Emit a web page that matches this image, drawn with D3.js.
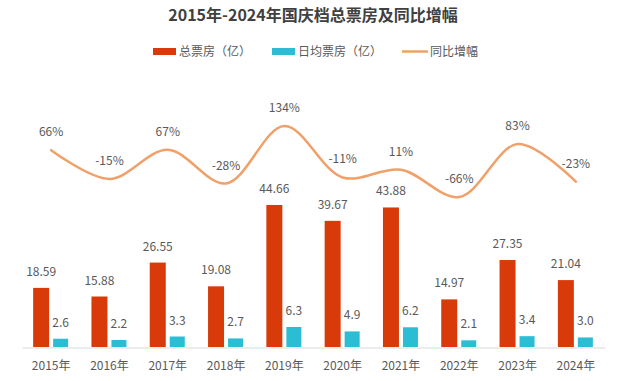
<!DOCTYPE html>
<html><head><meta charset="utf-8">
<script src="https://cdn.jsdelivr.net/npm/d3@7"></script>
<style>body{margin:0;background:#fff;} text{font-family:"Noto Sans CJK SC","Noto Sans",sans-serif;}</style>
</head><body><svg id="c" width="626" height="381"></svg>
<script>
const categories = ["2015年","2016年","2017年","2018年","2019年","2020年","2021年","2022年","2023年","2024年"];
const totalBox = [18.59,15.88,26.55,19.08,44.66,39.67,43.88,14.97,27.35,21.04];
const dailyBox = [2.6,2.2,3.3,2.7,6.3,4.9,6.2,2.1,3.4,3.0];
const growth = [66,-15,67,-28,134,-11,11,-66,83,-23];
const dailyLabels = ["2.6","2.2","3.3","2.7","6.3","4.9","6.2","2.1","3.4","3.0"];
const seriesNames = ["总票房（亿）","日均票房（亿）","同比增幅"];
const title = "2015年-2024年国庆档总票房及同比增幅";

const colRed = "#d83a0a", colCyan = "#2bbdd3", colLine = "#f0a06a", txt = "#595959";
const svg = d3.select("#c");

svg.append("text").attr("x",313).attr("y",21).attr("text-anchor","middle")
  .attr("font-size",16).attr("font-weight","bold").attr("fill","#404040").text(title);

// legend
const lg = svg.append("g").attr("font-size",12).attr("fill",txt);
lg.append("rect").attr("x",153).attr("y",48).attr("width",23).attr("height",7).attr("fill",colRed);
lg.append("text").attr("x",179).attr("y",56).text(seriesNames[0]);
lg.append("rect").attr("x",272).attr("y",48).attr("width",23).attr("height",7).attr("fill",colCyan);
lg.append("text").attr("x",298).attr("y",56).text(seriesNames[1]);
lg.append("line").attr("x1",402).attr("x2",428).attr("y1",51.5).attr("y2",51.5).attr("stroke",colLine).attr("stroke-width",2.5);
lg.append("text").attr("x",430).attr("y",56).text(seriesNames[2]);

const x = d3.scaleBand().domain(categories).range([22,605]);
const y = d3.scaleLinear().domain([0,50]).range([347,188]);
const yl = d3.scaleLinear().domain([-66,134]).range([197,126]);

const g = svg.append("g");
const cx = d => x(d) + x.bandwidth()/2;

g.selectAll(".r").data(categories).join("rect")
  .attr("x",d=>cx(d)-18).attr("width",16)
  .attr("y",(d,i)=>y(totalBox[i])).attr("height",(d,i)=>y(0)-y(totalBox[i])).attr("fill",colRed);
g.selectAll(".c").data(categories).join("rect")
  .attr("x",d=>cx(d)+2).attr("width",15)
  .attr("y",(d,i)=>y(dailyBox[i])).attr("height",(d,i)=>y(0)-y(dailyBox[i])).attr("fill",colCyan);

g.selectAll(".rl").data(categories).join("text")
  .attr("x",d=>cx(d)-10).attr("y",(d,i)=>y(totalBox[i])-12).attr("text-anchor","middle")
  .attr("font-size",12).attr("fill",txt).text((d,i)=>totalBox[i].toFixed(2));
g.selectAll(".cl").data(categories).join("text")
  .attr("x",d=>cx(d)+9.5).attr("y",(d,i)=>y(dailyBox[i])-12).attr("text-anchor","middle")
  .attr("font-size",12).attr("fill",txt).text((d,i)=>dailyLabels[i]);

// axis
const ax = svg.append("g").attr("transform","translate(0,347.5)")
  .call(d3.axisBottom(x).tickSize(0).tickPadding(14));
ax.select(".domain").attr("stroke","#d9d9d9");
ax.selectAll("text").attr("font-size",12).attr("fill",txt)
  .attr("font-family","'Noto Sans CJK SC','Noto Sans',sans-serif");

// line
const line = d3.line().x((d,i)=>cx(categories[i])).y(d=>yl(d)).curve(d3.curveCatmullRom.alpha(0.5));
svg.append("path").datum(growth).attr("d",line).attr("fill","none")
  .attr("stroke",colLine).attr("stroke-width",2.5).attr("stroke-linecap","round");
svg.selectAll(".gl").data(growth).join("text")
  .attr("x",(d,i)=>cx(categories[i])).attr("y",d=>yl(d)-14).attr("text-anchor","middle")
  .attr("font-size",12).attr("fill",txt).text(d=>d+"%");
</script></body></html>
